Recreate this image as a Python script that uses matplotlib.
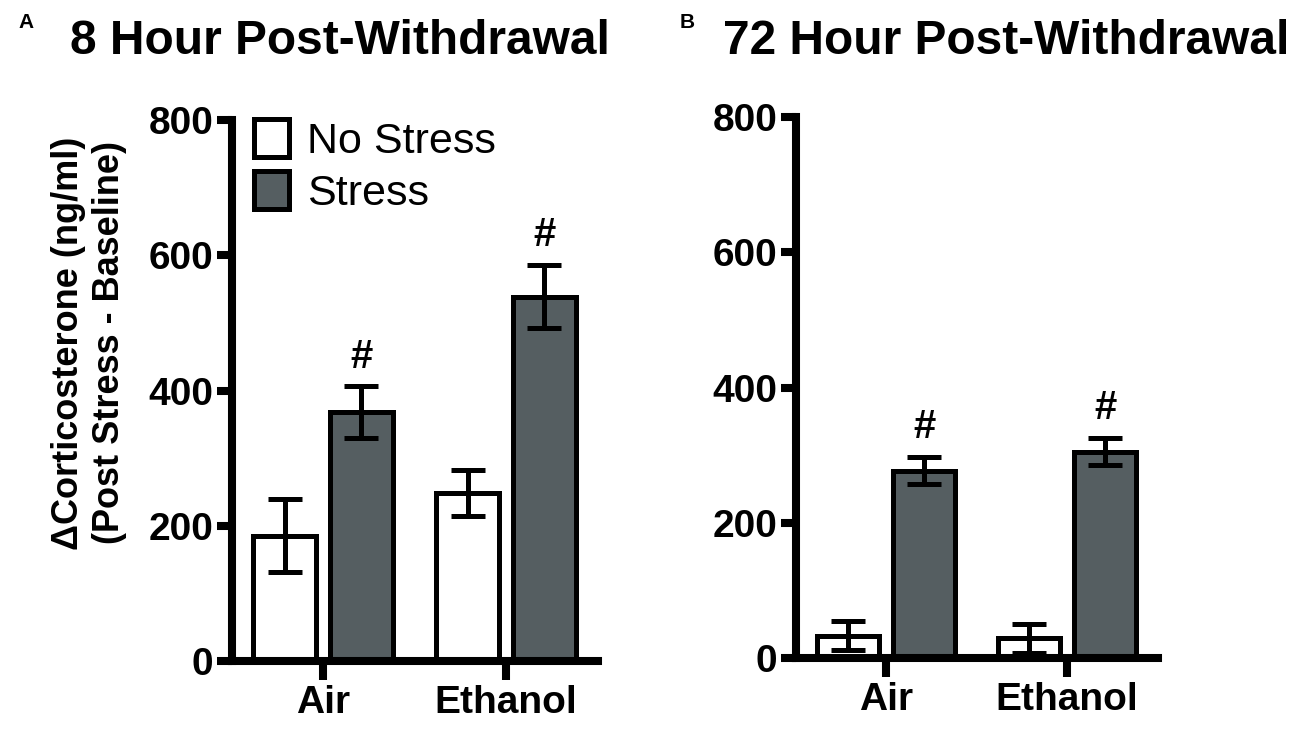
import matplotlib
matplotlib.use("Agg")
import matplotlib.pyplot as plt
import numpy as np

plt.rcParams['font.family'] = ['Liberation Sans', 'DejaVu Sans']

categories = ["Air", "Ethanol"]
series = ["No Stress", "Stress"]

# Panel A: 8 hour post-withdrawal
a_no_stress = [185, 248]
a_no_stress_err = [54, 34]
a_stress = [368, 539]
a_stress_err = [38, 46]

# Panel B: 72 hour post-withdrawal
b_no_stress = [33, 29]
b_no_stress_err = [21, 21]
b_stress = [277, 305]
b_stress_err = [20, 20]

yticks = [0, 200, 400, 600, 800]
titles = ["8 Hour Post-Withdrawal", "72 Hour Post-Withdrawal"]
panel_letters = ["A", "B"]
sig_mark = "#"

colors = ["white", "#555e61"]
W, H = 1300, 729
fig = plt.figure(figsize=(W / 100, H / 100), dpi=100)

SPINE_LW = 5.8
EDGE_LW = 3.6

def px_axes(left, right, top, bottom):
    return fig.add_axes([left / W, 1 - bottom / H, (right - left) / W, (bottom - top) / H])

axA = px_axes(231.5, 597.5, 120, 661)
axB = px_axes(795.5, 1157.5, 117, 658)

def draw(ax, ns, ns_err, st, st_err):
    x = np.arange(len(categories))
    off, w = 0.21, 0.34
    bars = []
    for vals, errs, col, sgn, lab in [(ns, ns_err, colors[0], -1, series[0]),
                                      (st, st_err, colors[1], 1, series[1])]:
        b = ax.bar(x + sgn * off, vals, width=w, color=col, edgecolor='black',
                   linewidth=EDGE_LW, label=lab, zorder=2)
        ax.errorbar(x + sgn * off, vals, yerr=errs, fmt='none', ecolor='black',
                    elinewidth=EDGE_LW, capsize=12.5, capthick=EDGE_LW, zorder=3)
        bars.append(b)
    for xi, v, e in zip(x + off, st, st_err):
        ax.text(xi, v + e + 28, sig_mark, ha='center', va='baseline',
                fontsize=29, fontweight='bold', zorder=4)
    ax.set_xlim(-0.5, 1.5)
    ax.set_ylim(0, 800)
    ax.set_yticks(yticks)
    ax.set_xticks(x)
    ax.set_xticklabels(categories)
    for s in ['top', 'right']:
        ax.spines[s].set_visible(False)
    for s in ['left', 'bottom']:
        ax.spines[s].set_linewidth(SPINE_LW)
        ax.spines[s].set_zorder(5)
    ax.tick_params(axis='y', length=11, width=SPINE_LW, pad=2, labelsize=28)
    ax.tick_params(axis='x', length=14, width=SPINE_LW, pad=3, labelsize=28)
    for lab in ax.get_xticklabels() + ax.get_yticklabels():
        lab.set_fontweight('bold')
    ax.patch.set_visible(False)
    return bars

barsA = draw(axA, a_no_stress, a_no_stress_err, a_stress, a_stress_err)
draw(axB, b_no_stress, b_no_stress_err, b_stress, b_stress_err)

axA.legend(handles=barsA, loc='upper left', bbox_to_anchor=(254 / W, 1 - 119 / H),
           bbox_transform=fig.transFigure, frameon=False, fontsize=31,
           handlelength=0.82, handleheight=0.98, handletextpad=0.42,
           labelspacing=0.22, borderpad=0, borderaxespad=0)

fig.text(89 / W, 1 - 343 / H, "\u0394Corticosterone (ng/ml)\n(Post Stress - Baseline)",
         rotation=90, ha='center', va='center', multialignment='center',
         fontsize=26, fontweight='bold', linespacing=1.2)

fig.text(340 / W, 1 - 42 / H, titles[0], ha='center', va='center',
         fontsize=34.5, fontweight='bold')
fig.text(1006 / W, 1 - 42 / H, titles[1], ha='center', va='center',
         fontsize=34.5, fontweight='bold')
fig.text(18 / W, 1 - 22 / H, panel_letters[0], ha='left', va='center',
         fontsize=15, fontweight='bold')
fig.text(680 / W, 1 - 22 / H, panel_letters[1], ha='left', va='center',
         fontsize=15, fontweight='bold')

fig.savefig("out.png", dpi=100, facecolor='white')
